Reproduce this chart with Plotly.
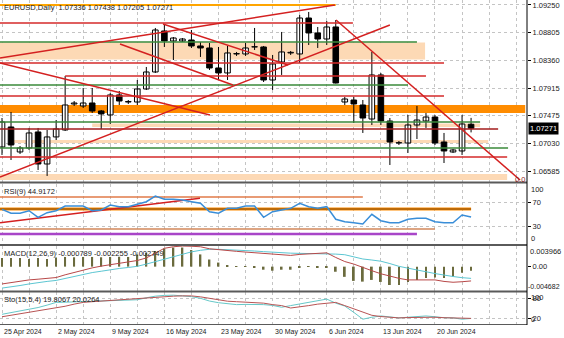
import plotly.graph_objects as go
from plotly.subplots import make_subplots

# ---------------- data ----------------
bars = list(range(53))
opens = [1.06971, 1.07292, 1.06891, 1.06955, 1.07212, 1.06698, 1.07132, 1.07244, 1.07661, 1.07629,
         1.07677, 1.07549, 1.07485, 1.07806, 1.07693, 1.07693, 1.07902, 1.08175, 1.08833, 1.08672,
         1.08672, 1.08688, 1.08592, 1.08560, 1.08239, 1.08159, 1.08464, 1.08464, 1.08576, 1.08576,
         1.08046, 1.08335, 1.08480, 1.08464, 1.09041, 1.08801, 1.08704, 1.08897, 1.07693, 1.07725,
         1.07645, 1.07420, 1.08127, 1.07388, 1.07035, 1.07035, 1.07324, 1.07388, 1.07452, 1.07051,
         1.06891, 1.06907, 1.07336]
highs = [1.07436, 1.07533, 1.06987, 1.07276, 1.07276, 1.07244, 1.07404, 1.08110, 1.07709, 1.07918,
         1.07918, 1.07565, 1.07838, 1.07870, 1.07725, 1.08046, 1.08255, 1.08881, 1.08945, 1.08736,
         1.08720, 1.08849, 1.08656, 1.08640, 1.08576, 1.08592, 1.08496, 1.08640, 1.08881, 1.08592,
         1.08448, 1.08817, 1.08512, 1.09090, 1.09138, 1.08897, 1.08993, 1.09009, 1.07774, 1.07774,
         1.07725, 1.08496, 1.08159, 1.07436, 1.07067, 1.07485, 1.07629, 1.07517, 1.07485, 1.07196,
         1.06939, 1.07485, 1.07438]
lows = [1.06843, 1.06762, 1.06859, 1.06923, 1.06602, 1.06506, 1.07083, 1.07228, 1.07629, 1.07597,
        1.07517, 1.07260, 1.07340, 1.07645, 1.07661, 1.07645, 1.07886, 1.08159, 1.08576, 1.08367,
        1.08656, 1.08560, 1.08416, 1.08207, 1.08046, 1.08046, 1.08432, 1.08432, 1.08528, 1.08014,
        1.07886, 1.08127, 1.08448, 1.08319, 1.08608, 1.08560, 1.08608, 1.07990, 1.07645, 1.07356,
        1.07196, 1.07324, 1.07324, 1.06682, 1.07003, 1.06875, 1.07099, 1.07276, 1.07003, 1.06714,
        1.06875, 1.06843, 1.07205]
closes = [1.07372, 1.07003, 1.06955, 1.07196, 1.06698, 1.07132, 1.07260, 1.07645, 1.07677, 1.07677,
          1.07549, 1.07501, 1.07806, 1.07709, 1.07700, 1.07902, 1.08175, 1.08849, 1.08672, 1.08720,
          1.08704, 1.08592, 1.08560, 1.08239, 1.08159, 1.08480, 1.08470, 1.08560, 1.08580, 1.08046,
          1.08303, 1.08496, 1.08490, 1.09041, 1.08801, 1.08704, 1.08897, 1.07998, 1.07741, 1.07661,
          1.07436, 1.08127, 1.07388, 1.07051, 1.07040, 1.07324, 1.07404, 1.07452, 1.07035, 1.06907,
          1.06923, 1.07340, 1.07271]

rsi = [57.8, 51.2, 51.2, 55.5, 44.5, 52.2, 55.5, 63.3, 63.3, 63.3,
       55.5, 56.7, 65.0, 62.2, 62.2, 66.7, 70.5, 80.0, 74.5, 74.5,
       73.3, 70.5, 67.8, 53.8, 51.2, 59.5, 59.5, 63.3, 63.3, 44.5,
       53.8, 56.7, 59.5, 67.8, 62.2, 59.5, 62.2, 41.2, 37.2, 35.5,
       33.3, 49.5, 38.8, 35.5, 35.5, 41.2, 42.8, 42.8, 37.2, 35.5,
       35.5, 48.3, 44.92]

macd_hist = [0.00167, 0.00167, 0.00167, 0.00147, 0.00167, 0.00147, 0.00176, 0.00186, 0.00180, 0.00186,
             0.00186, 0.00180, 0.00186, 0.00190, 0.00186, 0.00235, 0.00265, 0.00300, 0.00347, 0.00367,
             0.00367, 0.00319, 0.00235, 0.00137, 0.00078, 0.00029, 0.00010, 0.00002, -0.00010, -0.00059,
             -0.00078, -0.00059, -0.00059, -0.00020, -0.00004, -0.00010, -0.00020, -0.00098, -0.00196, -0.00274,
             -0.00288, -0.00255, -0.00294, -0.00353, -0.00353, -0.00294, -0.00255, -0.00216, -0.00210, -0.00216,
             -0.00190, -0.00118, -0.000789]
macd_red = [-0.00333, -0.00304, -0.00280, -0.00255, -0.00241, -0.00225, -0.00210, -0.00157, -0.00108, -0.00059,
            -0.00024, 0.00010, 0.00039, 0.00069, 0.00092, 0.00118, 0.00167, 0.00255, 0.00353, 0.00382,
            0.00396, 0.00392, 0.00382, 0.00343, 0.00323, 0.00308, 0.00294, 0.00280, 0.00269, 0.00259,
            0.00249, 0.00235, 0.00216, 0.00235, 0.00249, 0.00259, 0.00265, 0.00176, 0.00098, 0.00049,
            -0.00020, -0.00078, -0.00137, -0.00186, -0.00225, -0.00255, -0.00255, -0.00255, -0.00255, -0.00284,
            -0.00300, -0.00290, -0.002749]
macd_cyan = [-0.00412, -0.00392, -0.00363, -0.00333, -0.00304, -0.00284, -0.00265, -0.00225, -0.00186, -0.00143,
             -0.00114, -0.00088, -0.00059, -0.00035, -0.00016, 0.00006, 0.00049, 0.00098, 0.00137, 0.00196,
             0.00245, 0.00284, 0.00314, 0.00333, 0.00333, 0.00327, 0.00319, 0.00310, 0.00300, 0.00288,
             0.00274, 0.00265, 0.00259, 0.00255, 0.00255, 0.00255, 0.00255, 0.00241, 0.00229, 0.00186,
             0.00147, 0.00127, 0.00104, 0.00059, 0.00006, -0.00029, -0.00069, -0.00098, -0.00133, -0.00167,
             -0.00190, -0.00212, -0.002255]

sto_main = [32.4, 37.4, 41.2, 45.6, 52.9, 60.3, 68.5, 69.1, 70.0, 70.6,
            71.8, 72.6, 73.5, 74.4, 75.6, 76.5, 82.4, 87.4, 89.7, 90.3,
            88.2, 85.9, 80.9, 72.6, 67.6, 63.8, 61.8, 62.4, 63.2, 61.8,
            59.4, 53.8, 58.8, 63.8, 69.1, 73.5, 78.5, 66.2, 57.4, 38.2,
            17.6, 23.5, 27.4, 24.4, 21.5, 23.5, 26.5, 27.4, 25.0, 22.1,
            21.5, 17.6, 19.8067]
sto_signal = [25.0, 29.4, 33.8, 38.2, 42.6, 47.1, 51.5, 56.8, 63.2, 68.5,
              70.6, 72.6, 73.5, 75.0, 76.5, 78.5, 80.9, 82.9, 86.2, 87.4,
              88.2, 88.2, 85.3, 80.9, 75.6, 72.1, 70.6, 69.1, 68.2, 66.2,
              61.8, 58.8, 51.5, 54.4, 58.8, 63.2, 66.8, 68.5, 58.8, 48.5,
              38.2, 29.4, 25.6, 22.6, 21.5, 22.6, 23.5, 24.4, 23.5, 22.1,
              21.5, 20.0, 20.0264]

# drawn objects (bar index / price)
hline_price = [1.09250, 1.08961, 1.08656, 1.08319, 1.08110, 1.07966, 1.07790, 1.07372, 1.07260, 1.06955, 1.06810]
hline_x0 = [-0.3, -0.3, -0.3, -0.3, 7.0, -0.3, -0.3, -0.3, -0.3, -0.3, -0.3]
hline_x1 = [37.0, 38.9, 46.0, 49.0, 47.0, 45.0, 49.0, 53.0, 55.0, 56.1, 56.0]
hline_kind = ['orange', 'red', 'green', 'red', 'red', 'green', 'red', 'green', 'darkred', 'green', 'red']

zone_lo = [1.08375, 1.07517, 1.07292, 1.07035, 1.06441]
zone_hi = [1.08648, 1.07645, 1.07348, 1.07083, 1.06538]
zone_x0 = [-0.3, -0.3, 10.0, 1.2, -0.3]
zone_x1 = [46.9, 58.0, 53.0, 53.9, 56.0]
zone_kind = ['peach', 'orange', 'peach', 'peach', 'peach']

trend_x0 = [-0.22, -0.22, 17.85, 13.08, -0.22, 37.03]
trend_p0 = [1.08399, 1.08319, 1.08945, 1.08624, 1.06489, 1.09009]
trend_x1 = [36.9, 23.06, 31.7, 25.6, 43.0, 57.43]
trend_p1 = [1.09250, 1.07485, 1.08287, 1.07966, 1.08929, 1.06441]

rsi_level = [78.3, 58.3, 25.0, 16.7]
rsi_level_x1 = [40.0, 52.0, 48.0, 46.0]
rsi_trend_x = [-0.22, 21.95]
rsi_trend_y = [35.5, 76.2]

price_ticks = [1.09250, 1.08805, 1.08360, 1.07915, 1.07475, 1.07030, 1.06585]
date_labels = ["25 Apr 2024", "2 May 2024", "9 May 2024", "16 May 2024", "23 May 2024",
               "30 May 2024", "6 Jun 2024", "13 Jun 2024", "20 Jun 2024"]
date_bars = [0, 6, 12, 18, 24, 30, 36, 42, 48]
grid_bars = list(range(0, 59, 3))

header = "EURUSD,Daily  1.07336 1.07438 1.07205 1.07271"
last_price = 1.07271

# ---------------- styles ----------------
FONT = "Liberation Sans, Arial, sans-serif"
FS = 7.5
TXT = "#222222"
GRID = "#c4c4c4"
line_col = {'orange': '#FFA500', 'red': '#D42A2A', 'green': '#3A8A3A', 'darkred': '#A31C1C'}
line_w = {'orange': 2, 'red': 1.5, 'green': 1.5, 'darkred': 1.5}
zone_col = {'peach': '#FDD9B5', 'orange': '#FF8C00'}

W, H = 564, 338
ML, MR, MT, MB = 0, 37, 0, 13
PH = H - MT - MB  # plot height in px


def py(p):  # pixel row -> paper fraction
    return (PH - p) / PH


fig = make_subplots(rows=4, cols=1, shared_xaxes=True, vertical_spacing=0)

# ---- main panel: zones ----
shapes = []
for lo, hi, x0, x1, k in zip(zone_lo, zone_hi, zone_x0, zone_x1, zone_kind):
    shapes.append(dict(type='rect', xref='x', yref='y', x0=x0, x1=x1, y0=lo, y1=hi,
                       fillcolor=zone_col[k], line=dict(width=0), layer='between'))

# ---- candles ----
wx, wy = [], []
for i, h, l in zip(bars, highs, lows):
    wx += [i, i, None]
    wy += [l, h, None]
fig.add_trace(go.Scatter(x=wx, y=wy, mode='lines', line=dict(color='black', width=1),
                         hoverinfo='skip', showlegend=False), row=1, col=1)
body_h = [max(abs(c - o), 0.00003) for o, c in zip(opens, closes)]
body_b = [min(o, c) for o, c in zip(opens, closes)]
body_c = ['white' if c >= o else 'black' for o, c in zip(opens, closes)]
fig.add_trace(go.Bar(x=bars, y=body_h, base=body_b, width=0.62,
                     marker=dict(color=body_c, line=dict(color='black', width=1)),
                     hoverinfo='skip', showlegend=False), row=1, col=1)

# ---- horizontal lines & trend lines ----
for p, x0, x1, k in zip(hline_price, hline_x0, hline_x1, hline_kind):
    fig.add_trace(go.Scatter(x=[x0, x1], y=[p, p], mode='lines',
                             line=dict(color=line_col[k], width=line_w[k]),
                             hoverinfo='skip', showlegend=False), row=1, col=1)
for x0, p0, x1, p1 in zip(trend_x0, trend_p0, trend_x1, trend_p1):
    fig.add_trace(go.Scatter(x=[x0, x1], y=[p0, p1], mode='lines',
                             line=dict(color='#D42020', width=1.5),
                             hoverinfo='skip', showlegend=False), row=1, col=1)

# ---- RSI ----
rsi_cols = ['#E07A48', '#FF8C00', '#D2875A', '#A845C8']
rsi_w = [1.5, 3, 1.5, 2.5]
for lv, x1, c, w in zip(rsi_level, rsi_level_x1, rsi_cols, rsi_w):
    fig.add_trace(go.Scatter(x=[-0.3, x1], y=[lv, lv], mode='lines', line=dict(color=c, width=w),
                             hoverinfo='skip', showlegend=False), row=2, col=1)
fig.add_trace(go.Scatter(x=[-0.3, rsi_level_x1[1]], y=[rsi_level[1]] * 2, mode='lines',
                         line=dict(color='#7A4A10', width=1), hoverinfo='skip', showlegend=False), row=2, col=1)
fig.add_trace(go.Scatter(x=rsi_trend_x, y=rsi_trend_y, mode='lines', line=dict(color='#D42020', width=1.5),
                         hoverinfo='skip', showlegend=False), row=2, col=1)
fig.add_trace(go.Scatter(x=bars, y=rsi, mode='lines', line=dict(color='#3A8ED8', width=1.5),
                         hoverinfo='skip', showlegend=False), row=2, col=1)

# ---- MACD ----
fig.add_trace(go.Bar(x=bars, y=macd_hist, width=0.2, marker=dict(color='#6B6B3E', line=dict(width=0)),
                     hoverinfo='skip', showlegend=False), row=3, col=1)
fig.add_trace(go.Scatter(x=bars, y=macd_cyan, mode='lines', line=dict(color='#5CC6D2', width=1),
                         hoverinfo='skip', showlegend=False), row=3, col=1)
fig.add_trace(go.Scatter(x=bars, y=macd_red, mode='lines', line=dict(color='#B84848', width=1),
                         hoverinfo='skip', showlegend=False), row=3, col=1)

# ---- Stochastic ----
fig.add_trace(go.Scatter(x=bars, y=sto_main, mode='lines', line=dict(color='#66C8C8', width=1),
                         hoverinfo='skip', showlegend=False), row=4, col=1)
fig.add_trace(go.Scatter(x=bars, y=sto_signal, mode='lines', line=dict(color='#B85454', width=1),
                         hoverinfo='skip', showlegend=False), row=4, col=1)

# ---- axes ----
xr = [-0.222, 58.2]
for r in range(1, 5):
    fig.update_xaxes(range=xr, tickvals=grid_bars, showticklabels=False, ticks='',
                     showgrid=True, gridcolor=GRID, griddash='dot', gridwidth=1,
                     zeroline=False, showline=False, row=r, col=1)

axis_font = dict(family=FONT, size=FS, color=TXT)
fig.update_layout(
    yaxis=dict(domain=[py(182), 1.0], range=[1.06409, 1.09330], side='right',
               tickvals=price_ticks, ticktext=[f"{v:.5f}" for v in price_ticks],
               ticks='outside', ticklen=3, tickcolor='#000', tickfont=axis_font,
               showgrid=True, gridcolor=GRID, griddash='dot', zeroline=False),
    yaxis2=dict(domain=[py(244), py(184)], range=[0, 100], side='right',
                tickvals=[70, 30], ticktext=['70', '30'], ticks='outside', ticklen=3,
                tickcolor='#000', tickfont=axis_font,
                showgrid=True, gridcolor=GRID, griddash='dot', zeroline=False),
    yaxis3=dict(domain=[py(291), py(246)], range=[-0.004682, 0.003966], side='right',
                tickvals=[0], ticktext=['0.00'], ticks='outside', ticklen=3,
                tickcolor='#000', tickfont=axis_font, showgrid=False, zeroline=False),
    yaxis4=dict(domain=[0, py(292)], range=[0, 100], side='right',
                tickvals=[80, 20], ticktext=['80', '20'], ticks='outside', ticklen=3,
                tickcolor='#000', tickfont=axis_font,
                showgrid=True, gridcolor=GRID, griddash='dot', zeroline=False),
)

# separators & right axis line
for p, w in [(182.5, 2), (245, 2), (291.5, 2), (324.5, 1)]:
    shapes.append(dict(type='line', xref='paper', yref='paper', x0=0, x1=1, y0=py(p), y1=py(p),
                       line=dict(color='#5a5a5a', width=w), layer='above'))
shapes.append(dict(type='line', xref='paper', yref='paper', x0=1, x1=1, y0=0, y1=1,
                   line=dict(color='#000', width=1), layer='above'))

ann = []
ann.append(dict(xref='paper', yref='paper', x=0, y=1, xshift=2, yshift=-1, xanchor='left', yanchor='top',
                text=header, showarrow=False, font=dict(family=FONT, size=FS, color=TXT)))
ann.append(dict(xref='paper', yref='paper', x=0, y=py(185), xshift=2, xanchor='left', yanchor='top',
                text="RSI(9) 44.9172", showarrow=False, font=dict(family=FONT, size=FS, color=TXT)))
ann.append(dict(xref='paper', yref='paper', x=0, y=py(246.5), xshift=2, xanchor='left', yanchor='top',
                text="MACD(12,26,9) -0.000789 -0.002255 -0.002749", showarrow=False,
                font=dict(family=FONT, size=FS, color=TXT)))
ann.append(dict(xref='paper', yref='paper', x=0, y=py(292.5), xshift=2, xanchor='left', yanchor='top',
                text="Sto(15,5,4) 19.8067 20.0264", showarrow=False, font=dict(family=FONT, size=FS, color=TXT)))
# extreme scale labels
for yref, val, txt, anc, sh, fs in [('y2', 100, '100', 'top', 3, FS), ('y2', 0, '0', 'bottom', 3, FS),
                                    ('y3', 0.003966, '0.003966', 'top', 2, FS),
                                    ('y3', -0.004682, '-0.004682', 'bottom', 0, 7),
                                    ('y4', 100, '100', 'top', 3, FS), ('y4', 0, '0', 'bottom', 3, FS)]:
    ann.append(dict(xref='paper', yref=yref, x=1, y=val, xshift=sh, xanchor='left', yanchor=anc,
                    text=txt, showarrow=False, borderpad=0, font=dict(family=FONT, size=fs, color=TXT)))
# current price box
ann.append(dict(xref='paper', yref='y', x=1, y=last_price, xshift=1, xanchor='left', yanchor='middle',
                text=f"{last_price:.5f}", showarrow=False, bgcolor='#000', borderpad=1,
                font=dict(family=FONT, size=FS, color='#fff')))
# trendline level tag
ann.append(dict(xref='x', yref='y', x=xr[1], y=1.06449, xanchor='right', yanchor='middle',
                text="0.0", showarrow=False, font=dict(family=FONT, size=FS, color='#8B1A1A')))
# date labels
for b, t in zip(date_bars, date_labels):
    ann.append(dict(xref='x4', yref='paper', x=b, y=0, yshift=-1, xanchor='left', yanchor='top',
                    text=t, showarrow=False, font=dict(family=FONT, size=7, color=TXT)))

fig.update_layout(
    width=W, height=H, margin=dict(l=ML, r=MR, t=MT, b=MB, pad=0),
    paper_bgcolor='white', plot_bgcolor='white', barmode='overlay',
    showlegend=False, shapes=shapes, annotations=ann, hovermode=False,
    font=dict(family=FONT, size=FS, color=TXT),
)

fig.write_html("out.html", config={'displayModeBar': False})
